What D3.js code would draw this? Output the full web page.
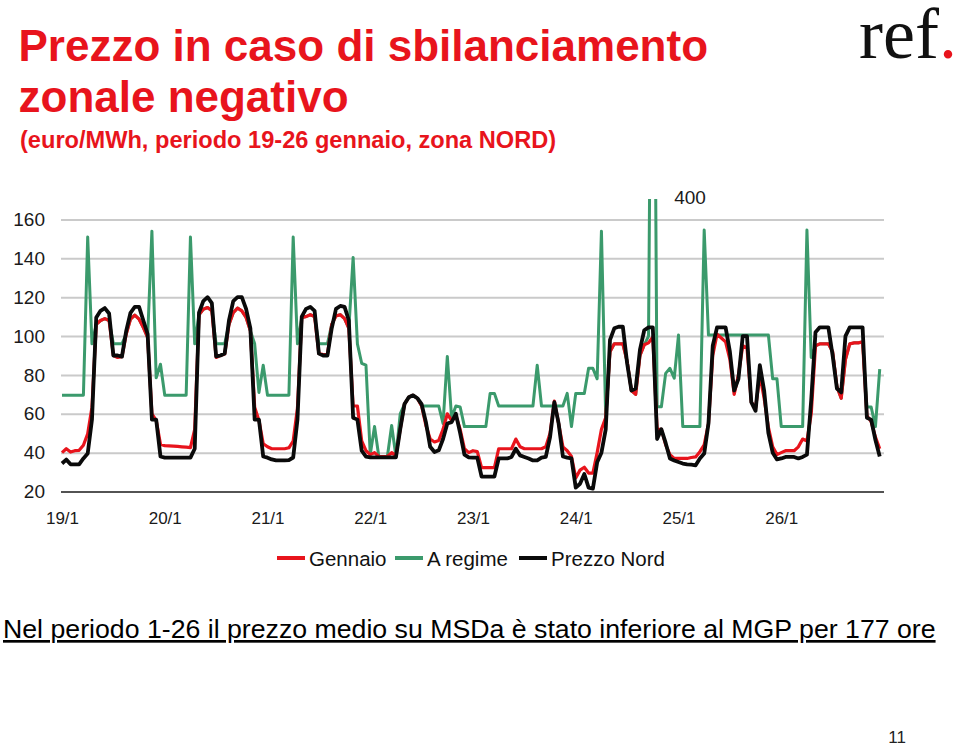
<!DOCTYPE html>
<html>
<head>
<meta charset="utf-8">
<script src="https://cdnjs.cloudflare.com/ajax/libs/d3/7.8.5/d3.min.js"></script>
<style>
  body { margin: 0; background: #fff; }
  svg { display: block; font-family: "Liberation Sans", Arial, sans-serif; }
</style>
</head>
<body>
<svg id="chart" width="960" height="746"></svg>
<script>
// x axis: one point per hour, 8 days
const dayLabels = ['19/1', '20/1', '21/1', '22/1', '23/1', '24/1', '25/1', '26/1'];
const dayStarts = [0, 24, 48, 72, 96, 120, 144, 168];
const yTicks = [20, 40, 60, 80, 100, 120, 140, 160];

// Gennaio (red)
const gennaio = [
    40, 42, 40.3, 41, 41.2, 43.8, 49.7, 63.4, 106, 108, 109, 108, 90, 89, 89.4, 101, 108.7, 110.8, 108.7, 104.4, 99.3, 60, 56.6, 44.3,
    43.6, 43.5, 43.4, 43.2, 43, 42.8, 42.6, 52, 111, 113.8, 114.7, 113, 89, 90, 90.8, 106, 112, 114.4, 113, 109.6, 102.7, 63.4, 56.6, 44.6,
    43, 42, 42, 42, 42, 42.5, 46, 63, 109.6, 110, 111, 110, 91, 90.5, 90.5, 106, 110.4, 111, 109, 104, 64, 64, 46, 41,
    39, 40, 38, 38, 38, 40, 38.5, 52, 65, 68.5, 69.5, 68, 64, 54, 47, 45.5, 46.3, 52, 60, 56.5, 59, 52, 42, 40,
    41, 40.5, 32.3, 32.3, 32.3, 32.3, 42, 42, 42, 42, 47, 43, 42, 42, 42, 42, 42, 43, 50, 66.5, 55, 43, 41, 38,
    27, 31, 32.5, 29.5, 29.5, 40, 52, 58, 92, 96, 96, 96, 87, 72, 70, 90, 95.5, 96.5, 99.5, 52, 52, 44, 39, 37,
    37, 37, 37, 37.5, 37.8, 40.5, 44, 55, 90, 101, 99, 97, 88, 70, 80, 95, 94, 66, 63, 80, 68, 53, 43, 39,
    40, 41, 41, 41, 43, 47, 46, 60, 95, 96, 96, 96, 92, 74, 68, 88, 96, 96.5, 96.5, 97, 59, 56, 48, 42
];

// A regime (green)
const aRegime = [
    69.5, 69.5, 69.5, 69.5, 69.5, 69.5, 151, 96, 106, 108, 109, 108, 96, 96, 96, 101, 108.7, 110.8, 108.7, 104.4, 99.3, 154, 78.5, 85.5,
    69.5, 69.5, 69.5, 69.5, 69.5, 69.5, 151, 96, 111, 113.8, 114.7, 113, 96, 96, 96, 106, 112, 114.4, 113, 109.6, 102.7, 96, 71, 85,
    69.5, 69.5, 69.5, 69.5, 69.5, 69.5, 151, 96, 109.6, 110, 111, 110, 96, 96, 96, 106, 110.4, 111, 109, 104, 140.5, 96, 86, 85,
    39, 53.5, 38, 38, 38, 54, 38, 60, 65, 68.5, 69.5, 68, 64, 64, 64, 64, 64, 55, 89.5, 58, 64, 63.5, 53.4, 53.4,
    53.4, 53.4, 53.4, 53.4, 70.5, 70.5, 64, 64, 64, 64, 64, 64, 64, 64, 64, 85, 64, 64, 64, 64, 64, 64, 70.5, 53.4,
    70.5, 70.5, 70.5, 83.4, 83.4, 78, 154, 58, 92, 96, 96, 96, 87, 72, 70, 90, 95.5, 100, 400, 63.6, 63.6, 80.8, 83.4, 78.3,
    100.5, 53.4, 53.4, 53.4, 53.4, 53.4, 154.6, 100.5, 100.5, 100.5, 100.5, 100.5, 100.5, 100.5, 100.5, 100.5, 100.5, 100.5, 100.5, 100.5, 100.5, 100.5, 78, 78,
    53.4, 53.4, 53.4, 53.4, 53.4, 53.4, 154.6, 89, 95, 96, 96, 96, 92, 74, 68, 88, 96, 96.5, 96.5, 97, 63.5, 63.5, 53.4, 83
];

// Prezzo Nord (black)
const prezzoNord = [
    34.4, 36.4, 34, 34, 34, 37, 39.5, 57, 109.6, 113, 114.4, 111.6, 90, 90, 89.4, 102.7, 112, 115, 115, 108, 101, 57, 57, 38,
    37.4, 37.4, 37.4, 37.4, 37.4, 37.4, 37.4, 42, 112, 118, 120, 117, 89.5, 90, 91, 108, 118, 120, 120, 114, 104, 57, 57, 38,
    37.4, 36.5, 36, 36, 36, 36.2, 37.5, 57, 110, 114, 115, 113, 91, 90, 90, 104, 114, 115.5, 115, 108, 58, 57, 41, 38,
    37.6, 37.6, 37.6, 37.6, 37.6, 37.6, 37.6, 52, 65, 68.5, 69.5, 68, 65, 55.7, 43, 40.3, 41.2, 47, 55, 55.7, 60, 50, 39, 37.6,
    37.4, 37.4, 27.7, 27.7, 27.7, 27.7, 37, 37, 37, 37.8, 42, 38.6, 37.8, 37, 36, 36, 37.4, 37.8, 48, 66, 55, 38, 37.4, 37,
    22, 24, 29, 22, 21.5, 35, 40, 52, 98, 104, 104.8, 104.8, 86, 72, 73, 93, 103, 104.5, 104.5, 47, 52, 45, 37, 36,
    35.2, 34.4, 34, 33.8, 33.5, 37, 39.5, 55, 95, 104.5, 104.5, 104.5, 92, 72, 78, 100, 100, 66, 61.5, 85, 72, 50, 40, 36.5,
    37, 37.8, 37.8, 37.8, 37, 37.8, 39, 67, 102, 104.5, 104.5, 104.5, 90, 73, 71, 100, 104.5, 104.5, 104.5, 104.5, 58, 57, 46.5, 38
];

const seriesNames = ['Gennaio', 'A regime', 'Prezzo Nord'];
const colors = { 'Gennaio': '#e8141c', 'A regime': '#3b9a6c', 'Prezzo Nord': '#0a0a0a' };

const svg = d3.select('#chart');
const red = '#e8141c';

// header
svg.append('text')
    .attr('x', 18.5).attr('y', 61)
    .attr('font-size', 44).attr('font-weight', 'bold').attr('fill', red)
    .text('Prezzo in caso di sbilanciamento');
svg.append('text')
    .attr('x', 18.5).attr('y', 112)
    .attr('font-size', 44).attr('font-weight', 'bold').attr('fill', red)
    .text('zonale negativo');
svg.append('text')
    .attr('x', 20).attr('y', 148)
    .attr('font-size', 23.6).attr('font-weight', 'bold').attr('fill', red)
    .text('(euro/MWh, periodo 19-26 gennaio, zona NORD)');

const logo = svg.append('text')
    .attr('x', 859).attr('y', 58)
    .attr('font-family', '"Liberation Serif", "Times New Roman", serif')
    .attr('font-size', 72).attr('fill', '#111');
logo.append('tspan').text('ref');
logo.append('tspan').attr('fill', red).text('.');

// scales
const x = d3.scaleLinear().domain([0, 192]).range([62, 884]);
const y = d3.scaleLinear().domain([20, 160]).range([491.5, 219.5]);

// y axis + gridlines
const yAxis = svg.append('g')
    .attr('transform', 'translate(61,0)')
    .call(d3.axisLeft(y).tickValues(yTicks).tickSize(-823).tickPadding(16));
yAxis.select('.domain').remove();
yAxis.selectAll('.tick line')
    .attr('stroke', d => d === 20 ? '#1a1a1a' : '#cacaca')
    .attr('stroke-width', d => d === 20 ? 1.6 : 2);
yAxis.selectAll('.tick text')
    .attr('font-size', 19).attr('fill', '#1a1a1a')
    .attr('font-family', '"Liberation Sans", Arial, sans-serif');

// x axis
const xAxis = svg.append('g')
    .attr('transform', 'translate(0,491.5)')
    .call(d3.axisBottom(x).tickValues(dayStarts).tickSize(0).tickPadding(20)
        .tickFormat((d, i) => dayLabels[i]));
xAxis.select('.domain').remove();
xAxis.selectAll('.tick text')
    .attr('font-size', 17).attr('fill', '#1a1a1a')
    .attr('font-family', '"Liberation Sans", Arial, sans-serif');

// clip the series at the top of the plot (the 400 spike runs off)
svg.append('clipPath').attr('id', 'plot-clip')
    .append('rect').attr('x', 55).attr('y', 199).attr('width', 835).attr('height', 310);

const line = d3.line()
    .x((d, i) => x(i))
    .y(d => y(d));

const plot = svg.append('g').attr('clip-path', 'url(#plot-clip)');
[['A regime', aRegime, 3], ['Gennaio', gennaio, 3.2], ['Prezzo Nord', prezzoNord, 3.8]].forEach(([name, values, w]) => {
    plot.append('path')
        .datum(values)
        .attr('fill', 'none')
        .attr('stroke', colors[name])
        .attr('stroke-width', w)
        .attr('stroke-linejoin', 'round')
        .attr('d', line);
});

svg.append('text')
    .attr('x', 690).attr('y', 204)
    .attr('text-anchor', 'middle')
    .attr('font-size', 19).attr('fill', '#1a1a1a')
    .text('400');

// legend
const legendX = [277, 395, 519];
const legend = svg.append('g');
seriesNames.forEach((name, i) => {
    legend.append('line')
        .attr('x1', legendX[i]).attr('x2', legendX[i] + 28)
        .attr('y1', 558).attr('y2', 558)
        .attr('stroke', colors[name]).attr('stroke-width', 4);
    legend.append('text')
        .attr('x', legendX[i] + 32).attr('y', 566)
        .attr('font-size', 20.5).attr('fill', '#111')
        .text(name);
});

// footer
svg.append('text')
    .attr('x', 3).attr('y', 638)
    .attr('font-size', 26.7).attr('fill', '#000')
    .style('text-decoration', 'underline')
    .text('Nel periodo 1-26 il prezzo medio su MSDa è stato inferiore al MGP per 177 ore');

svg.append('text')
    .attr('x', 906).attr('y', 743)
    .attr('text-anchor', 'end')
    .attr('font-size', 17).attr('fill', '#222')
    .text('11');
</script>
</body>
</html>
